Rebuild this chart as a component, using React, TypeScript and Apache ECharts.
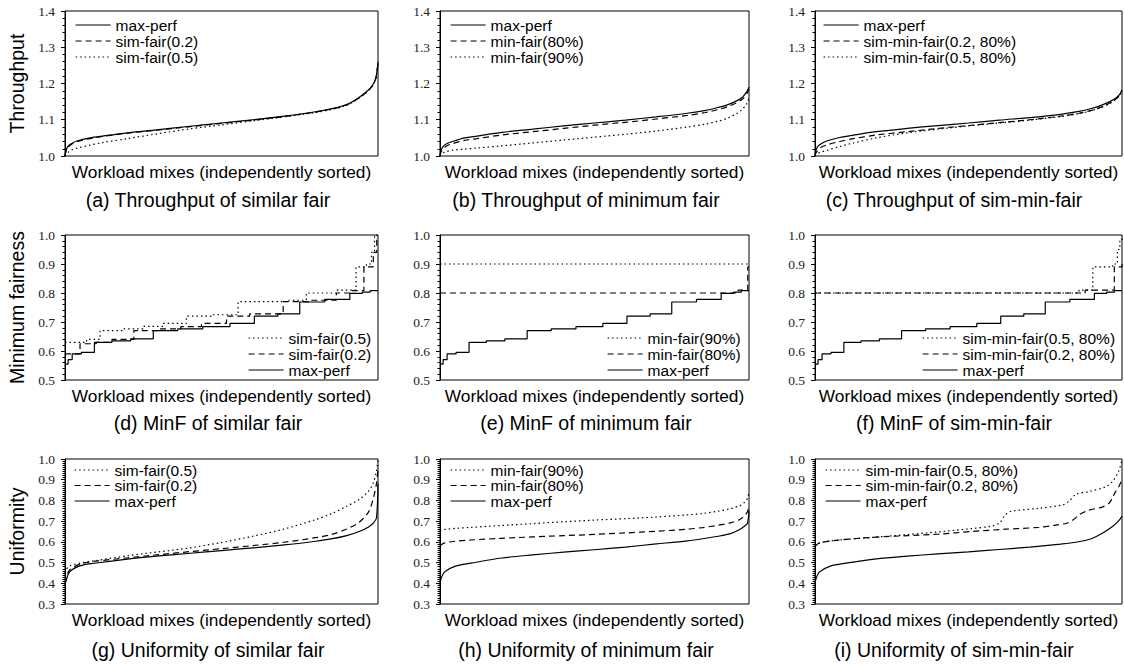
import React, { useEffect, useRef } from "react";
import * as echarts from "echarts";

// ---------- Row 1: Throughput (x = % of workload mixes, independently sorted) ----------
const X_THR = [0, 0.3, 1, 2, 4, 8, 12, 20, 30, 40, 50, 60, 70, 80, 86, 90, 93, 96, 98, 99.3, 100];
const A_MAX = [1.0, 1.015, 1.027, 1.034, 1.042, 1.05, 1.055, 1.064, 1.073, 1.082, 1.091, 1.1, 1.11, 1.122, 1.132, 1.142, 1.156, 1.175, 1.192, 1.215, 1.26];
const A_SF02 = [1.0, 1.012, 1.024, 1.032, 1.04, 1.048, 1.054, 1.063, 1.072, 1.081, 1.09, 1.099, 1.109, 1.121, 1.131, 1.141, 1.155, 1.174, 1.191, 1.214, 1.258];
const A_SF05 = [1.0, 1.004, 1.01, 1.016, 1.022, 1.03, 1.037, 1.048, 1.062, 1.075, 1.086, 1.097, 1.108, 1.12, 1.13, 1.14, 1.154, 1.173, 1.19, 1.213, 1.256];
const B_MAX = [1.0, 1.015, 1.026, 1.033, 1.04, 1.05, 1.055, 1.065, 1.074, 1.083, 1.091, 1.099, 1.108, 1.118, 1.126, 1.134, 1.141, 1.152, 1.163, 1.178, 1.19];
const B_MF80 = [1.0, 1.01, 1.02, 1.027, 1.034, 1.043, 1.048, 1.058, 1.067, 1.076, 1.085, 1.093, 1.102, 1.112, 1.12, 1.128, 1.136, 1.147, 1.158, 1.172, 1.185];
const B_MF90 = [1.0, 1.004, 1.008, 1.012, 1.016, 1.019, 1.022, 1.028, 1.036, 1.044, 1.052, 1.06, 1.069, 1.08, 1.088, 1.096, 1.104, 1.117, 1.13, 1.145, 1.16];
const C_MAX = [1.0, 1.016, 1.027, 1.034, 1.042, 1.051, 1.057, 1.067, 1.076, 1.084, 1.091, 1.099, 1.106, 1.115, 1.123, 1.131, 1.139, 1.15, 1.16, 1.171, 1.182];
const C_SMF02 = [1.0, 1.008, 1.017, 1.024, 1.031, 1.04, 1.047, 1.058, 1.067, 1.076, 1.084, 1.092, 1.1, 1.11, 1.118, 1.126, 1.134, 1.146, 1.157, 1.169, 1.18];
const C_SMF05 = [1.0, 1.003, 1.007, 1.011, 1.016, 1.026, 1.035, 1.05, 1.064, 1.074, 1.083, 1.091, 1.099, 1.109, 1.117, 1.125, 1.133, 1.145, 1.156, 1.168, 1.179];

// ---------- Row 2: Minimum fairness (step functions) ----------
const X_MINF_MAX = [0, 1, 2.3, 5.2, 9.4, 15, 21, 28.2, 36, 44, 52.7, 60.5, 68, 75, 83, 91, 95, 97.5, 100];
const MINF_MAX = [0.555, 0.57, 0.59, 0.595, 0.63, 0.635, 0.642, 0.67, 0.676, 0.684, 0.695, 0.72, 0.728, 0.769, 0.778, 0.799, 0.803, 0.808, 0.81];
const X_D_SF02 = [0, 4.8, 10, 15, 22, 30, 37, 43.6, 51.6, 59, 69.7, 78.7, 86.7, 91, 95.5, 98.5, 99.6, 100];
const D_SF02 = [0.59, 0.625, 0.63, 0.64, 0.67, 0.676, 0.684, 0.695, 0.72, 0.728, 0.77, 0.775, 0.8, 0.808, 0.89, 0.94, 1.0, 1.0];
const X_D_SF05 = [0, 6.9, 11.2, 18.6, 25, 31.4, 38.8, 47.3, 55.3, 70.7, 77.1, 86.7, 93, 96.3, 97.9, 98.9, 100];
const D_SF05 = [0.63, 0.64, 0.67, 0.676, 0.685, 0.695, 0.72, 0.725, 0.77, 0.775, 0.8, 0.81, 0.89, 0.9, 0.94, 1.0, 1.0];
const X_E_MF90 = [0, 100];
const E_MF90 = [0.9, 0.9];
const X_E_MF80 = [0, 96.5, 99.6, 100];
const E_MF80 = [0.8, 0.81, 0.89, 0.89];
const X_F_SMF05 = [0, 86, 90.5, 97, 98.5, 99.3, 100];
const F_SMF05 = [0.8, 0.81, 0.89, 0.9, 0.95, 0.98, 1.0];
const X_F_SMF02 = [0, 88, 97.5, 100];
const F_SMF02 = [0.8, 0.81, 0.89, 0.9];

// ---------- Row 3: Uniformity ----------
const X_UNI = [0, 0.3, 1.5, 5, 10, 20, 30, 40, 50, 60, 70, 80, 85, 90, 94, 97, 98.5, 99.5, 100];
const G_MAX = [0.39, 0.41, 0.455, 0.485, 0.498, 0.517, 0.532, 0.545, 0.558, 0.571, 0.585, 0.603, 0.614, 0.63, 0.65, 0.672, 0.69, 0.715, 0.88];
const G_SF02 = [0.4, 0.425, 0.465, 0.494, 0.507, 0.523, 0.538, 0.553, 0.567, 0.582, 0.598, 0.62, 0.635, 0.662, 0.695, 0.745, 0.81, 0.88, 0.95];
const G_SF05 = [0.45, 0.465, 0.484, 0.498, 0.51, 0.533, 0.552, 0.571, 0.597, 0.627, 0.662, 0.707, 0.735, 0.772, 0.805, 0.845, 0.885, 0.94, 1.0];
const H_MAX = [0.39, 0.42, 0.455, 0.483, 0.497, 0.522, 0.537, 0.55, 0.562, 0.575, 0.59, 0.605, 0.615, 0.627, 0.64, 0.66, 0.675, 0.69, 0.75];
const H_MF80 = [0.582, 0.585, 0.595, 0.603, 0.609, 0.617, 0.624, 0.63, 0.636, 0.643, 0.651, 0.661, 0.669, 0.68, 0.692, 0.708, 0.725, 0.745, 0.775];
const H_MF90 = [0.653, 0.656, 0.66, 0.665, 0.67, 0.679, 0.688, 0.697, 0.705, 0.712, 0.72, 0.73, 0.737, 0.748, 0.76, 0.775, 0.79, 0.81, 0.84];
const I_MAX = [0.39, 0.42, 0.455, 0.483, 0.497, 0.518, 0.531, 0.542, 0.552, 0.563, 0.575, 0.589, 0.598, 0.615, 0.645, 0.675, 0.695, 0.712, 0.725];
const X_I_SMF02 = [0, 1.5, 8, 19, 30, 40, 51, 62, 73, 78, 82, 84, 86, 89, 93.5, 95.7, 96.8, 97.8, 98.9, 100];
const I_SMF02 = [0.578, 0.595, 0.609, 0.622, 0.63, 0.637, 0.65, 0.661, 0.67, 0.68, 0.69, 0.705, 0.73, 0.752, 0.768, 0.785, 0.81, 0.84, 0.865, 0.9];
const X_I_SMF05 = [0, 1.5, 8, 19, 30, 40, 51, 57, 60, 62, 64, 73, 81, 83, 85, 89, 94.5, 96.8, 98.9, 100];
const I_SMF05 = [0.578, 0.595, 0.609, 0.622, 0.635, 0.648, 0.664, 0.675, 0.69, 0.73, 0.748, 0.762, 0.78, 0.8, 0.83, 0.842, 0.865, 0.89, 0.94, 0.998];

// ---------- Labels ----------
const X_LABEL = "Workload mixes (independently sorted)";
const Y_NAMES = ["Throughput", "Minimum fairness", "Uniformity"];
const CAPTIONS = [
  "(a) Throughput of similar fair", "(b) Throughput of minimum fair", "(c) Throughput of sim-min-fair",
  "(d) MinF of similar fair", "(e) MinF of minimum fair", "(f) MinF of sim-min-fair",
  "(g) Uniformity of similar fair", "(h) Uniformity of minimum fair", "(i) Uniformity of sim-min-fair",
];

type Dash = "solid" | "dashed" | "dotted";
type SeriesDef = { name: string; xs: number[]; ys: number[]; dash: Dash };

const PANELS: { series: SeriesDef[]; legend: string[]; step?: boolean }[] = [
  { series: [
      { name: "max-perf", xs: X_THR, ys: A_MAX, dash: "solid" },
      { name: "sim-fair(0.2)", xs: X_THR, ys: A_SF02, dash: "dashed" },
      { name: "sim-fair(0.5)", xs: X_THR, ys: A_SF05, dash: "dotted" }],
    legend: ["max-perf", "sim-fair(0.2)", "sim-fair(0.5)"] },
  { series: [
      { name: "max-perf", xs: X_THR, ys: B_MAX, dash: "solid" },
      { name: "min-fair(80%)", xs: X_THR, ys: B_MF80, dash: "dashed" },
      { name: "min-fair(90%)", xs: X_THR, ys: B_MF90, dash: "dotted" }],
    legend: ["max-perf", "min-fair(80%)", "min-fair(90%)"] },
  { series: [
      { name: "max-perf", xs: X_THR, ys: C_MAX, dash: "solid" },
      { name: "sim-min-fair(0.2, 80%)", xs: X_THR, ys: C_SMF02, dash: "dashed" },
      { name: "sim-min-fair(0.5, 80%)", xs: X_THR, ys: C_SMF05, dash: "dotted" }],
    legend: ["max-perf", "sim-min-fair(0.2, 80%)", "sim-min-fair(0.5, 80%)"] },
  { step: true, series: [
      { name: "max-perf", xs: X_MINF_MAX, ys: MINF_MAX, dash: "solid" },
      { name: "sim-fair(0.2)", xs: X_D_SF02, ys: D_SF02, dash: "dashed" },
      { name: "sim-fair(0.5)", xs: X_D_SF05, ys: D_SF05, dash: "dotted" }],
    legend: ["sim-fair(0.5)", "sim-fair(0.2)", "max-perf"] },
  { step: true, series: [
      { name: "max-perf", xs: X_MINF_MAX, ys: MINF_MAX, dash: "solid" },
      { name: "min-fair(80%)", xs: X_E_MF80, ys: E_MF80, dash: "dashed" },
      { name: "min-fair(90%)", xs: X_E_MF90, ys: E_MF90, dash: "dotted" }],
    legend: ["min-fair(90%)", "min-fair(80%)", "max-perf"] },
  { step: true, series: [
      { name: "max-perf", xs: X_MINF_MAX, ys: MINF_MAX, dash: "solid" },
      { name: "sim-min-fair(0.2, 80%)", xs: X_F_SMF02, ys: F_SMF02, dash: "dashed" },
      { name: "sim-min-fair(0.5, 80%)", xs: X_F_SMF05, ys: F_SMF05, dash: "dotted" }],
    legend: ["sim-min-fair(0.5, 80%)", "sim-min-fair(0.2, 80%)", "max-perf"] },
  { series: [
      { name: "max-perf", xs: X_UNI, ys: G_MAX, dash: "solid" },
      { name: "sim-fair(0.2)", xs: X_UNI, ys: G_SF02, dash: "dashed" },
      { name: "sim-fair(0.5)", xs: X_UNI, ys: G_SF05, dash: "dotted" }],
    legend: ["sim-fair(0.5)", "sim-fair(0.2)", "max-perf"] },
  { series: [
      { name: "max-perf", xs: X_UNI, ys: H_MAX, dash: "solid" },
      { name: "min-fair(80%)", xs: X_UNI, ys: H_MF80, dash: "dashed" },
      { name: "min-fair(90%)", xs: X_UNI, ys: H_MF90, dash: "dotted" }],
    legend: ["min-fair(90%)", "min-fair(80%)", "max-perf"] },
  { series: [
      { name: "max-perf", xs: X_UNI, ys: I_MAX, dash: "solid" },
      { name: "sim-min-fair(0.2, 80%)", xs: X_I_SMF02, ys: I_SMF02, dash: "dashed" },
      { name: "sim-min-fair(0.5, 80%)", xs: X_I_SMF05, ys: I_SMF05, dash: "dotted" }],
    legend: ["sim-min-fair(0.5, 80%)", "sim-min-fair(0.2, 80%)", "max-perf"] },
];

// ---------- Layout ----------
const COLS = [
  { left: 65, width: 313, cap: 208 },
  { left: 440, width: 309, cap: 586 },
  { left: 815, width: 307, cap: 954 },
];
const ROWS = [
  { top: 11, height: 145, min: 1.0, max: 1.4, minor: 5, capY: 200, legTop: 17, legGap: 0 },
  { top: 235, height: 145, min: 0.5, max: 1.0, minor: 5, capY: 423, legTop: 330, legGap: 0 },
  { top: 459, height: 145, min: 0.3, max: 1.0, minor: 10, capY: 650, legTop: 462, legGap: -0.5 },
];
const LEGEND_LEFT = [75, 450, 823, 248, 607, 922, 74, 450, 825];

const SANS = "'Liberation Sans', Arial, Helvetica, sans-serif";
const SERIF = "'Liberation Serif', 'Times New Roman', serif";
const DASHES: Record<Dash, any> = { solid: "solid", dashed: [6, 4], dotted: [1.5, 3] };

export default function App() {
  const ref = useRef<HTMLDivElement>(null);
  useEffect(() => {
    if (!ref.current) return;
    const chart = echarts.init(ref.current, undefined, { renderer: "svg" });
    const grid: any[] = [];
    const xAxis: any[] = [];
    const yAxis: any[] = [];
    const series: any[] = [];
    const legend: any[] = [];
    const graphic: any[] = [];

    PANELS.forEach((p, k) => {
      const ri = Math.floor(k / 3);
      const r = ROWS[ri];
      const c = COLS[k % 3];
      grid.push({
        left: c.left, top: r.top, width: c.width, height: r.height,
        show: true, borderColor: "#000", borderWidth: 1, backgroundColor: "transparent",
      });
      xAxis.push({
        type: "value", gridIndex: k, min: 0, max: 100,
        axisLabel: { show: false }, axisTick: { show: false }, splitLine: { show: false },
        axisLine: { show: false },
        name: X_LABEL, nameLocation: "middle", nameGap: 7,
        nameTextStyle: { fontFamily: SANS, fontSize: 17.3, color: "#000" },
      });
      yAxis.push({
        type: "value", gridIndex: k, min: r.min, max: r.max, interval: 0.1,
        axisLine: { show: true, lineStyle: { color: "#000", width: 1 } },
        axisTick: { show: true, inside: false, length: 4, lineStyle: { color: "#000" } },
        minorTick: { show: true, splitNumber: r.minor, length: 2.5, lineStyle: { color: "#000" } },
        splitLine: { show: false },
        axisLabel: {
          formatter: (v: number) => v.toFixed(1),
          fontFamily: SERIF, fontSize: 13.5, color: "#222", margin: 10,
        },
        name: k % 3 === 0 ? Y_NAMES[ri] : "",
        nameLocation: "middle", nameGap: 38,
        nameTextStyle: { fontFamily: SANS, fontSize: 19.5, color: "#000" },
      });
      p.series.forEach((s) => {
        series.push({
          type: "line", name: s.name, xAxisIndex: k, yAxisIndex: k,
          data: s.xs.map((x, i) => [x, s.ys[i]]),
          symbol: "none", showSymbol: false,
          smooth: p.step ? false : 0.3,
          step: p.step ? "end" : false,
          lineStyle: { color: "#000", width: 1.2, type: DASHES[s.dash] },
          itemStyle: { color: "#000" },
          emphasis: { disabled: true },
          silent: true,
        });
      });
      legend.push({
        show: true, orient: "vertical", left: LEGEND_LEFT[k], top: r.legTop,
        itemWidth: 35, itemHeight: 14, itemGap: r.legGap, padding: 0,
        selectedMode: false, data: p.legend,
        itemStyle: { opacity: 0 },
        lineStyle: { width: 1.2 },
        textStyle: { fontFamily: SANS, fontSize: 15.5, lineHeight: 14, color: "#000" },
      });
      graphic.push({
        type: "text", x: c.cap, y: r.capY, silent: true,
        style: {
          text: CAPTIONS[k], font: `19.5px ${SANS}`, fill: "#000",
          align: "center", verticalAlign: "middle",
        },
      });
    });

    chart.setOption({
      animation: false,
      backgroundColor: "#fff",
      grid, xAxis, yAxis, series, legend, graphic,
    });
    return () => chart.dispose();
  }, []);
  return (
    <div
      ref={ref}
      style={{ position: "fixed", left: 0, top: 0, width: 1124, height: 665, background: "#fff" }}
    />
  );
}
